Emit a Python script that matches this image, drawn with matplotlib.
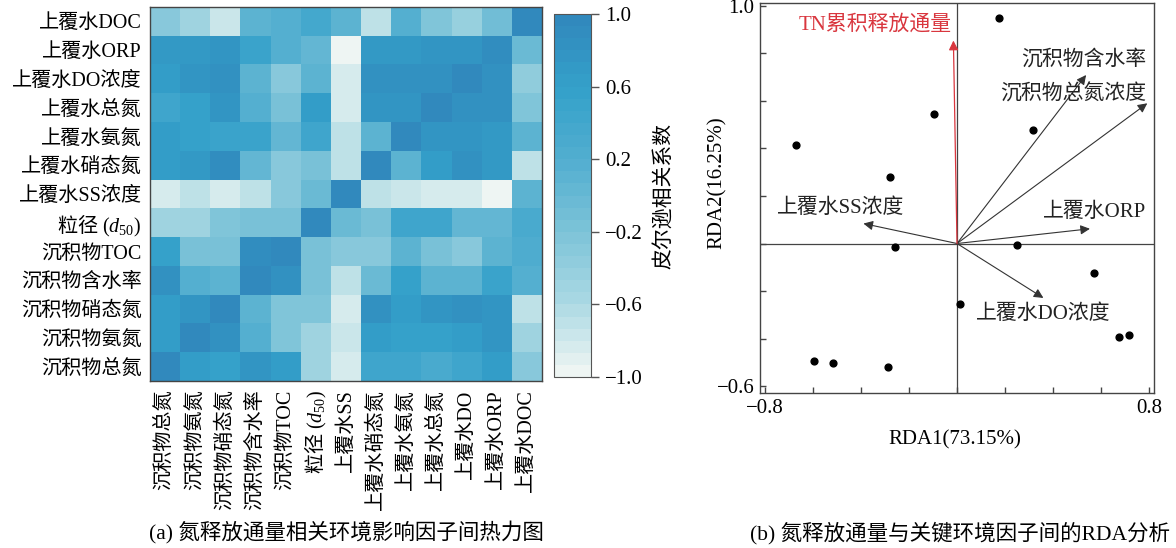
import numpy as np
import matplotlib
matplotlib.use("Agg")
import matplotlib.pyplot as plt
from matplotlib.colors import LinearSegmentedColormap

plt.rcParams["font.family"] = ["Liberation Serif", "Noto Sans CJK SC"]
# 公式里的中文用 sf 字体，其余用衬线字体
plt.rcParams["mathtext.fontset"] = "custom"
plt.rcParams["mathtext.rm"] = "Liberation Serif"
plt.rcParams["mathtext.it"] = "Liberation Serif:italic"
plt.rcParams["mathtext.sf"] = "Noto Sans CJK SC"
plt.rcParams["axes.unicode_minus"] = True

D50 = r"$\mathsf{粒径}\ (d_{50})$"

# ---- 热力图数据 ----
heat_rows = ["上覆水DOC", "上覆水ORP", "上覆水DO浓度", "上覆水总氮", "上覆水氨氮",
             "上覆水硝态氮", "上覆水SS浓度", D50, "沉积物TOC",
             "沉积物含水率", "沉积物硝态氮", "沉积物氨氮", "沉积物总氮"]
heat_cols = ["沉积物总氮", "沉积物氨氮", "沉积物硝态氮", "沉积物含水率", "沉积物TOC",
             D50, "上覆水SS", "上覆水硝态氮", "上覆水氨氮", "上覆水总氮",
             "上覆水DO", "上覆水ORP", "上覆水DOC"]
corr = np.array([
    [-0.30, -0.50, -0.75,  0.10,  0.15,  0.35,  0.10, -0.70,  0.15, -0.25, -0.45, -0.10,  1.00],
    [ 0.70,  0.70,  0.75,  0.50,  0.15,  0.00, -1.00,  0.70,  0.70,  0.75,  0.75,  0.90, -0.05],
    [ 0.60,  0.75,  0.85,  0.10, -0.30,  0.10, -0.80,  0.80,  0.80,  0.80,  1.00,  0.85, -0.35],
    [ 0.40,  0.55,  0.75,  0.15, -0.20,  0.60, -0.80,  0.75,  0.75,  1.00,  0.85,  0.80, -0.25],
    [ 0.60,  0.55,  0.50,  0.50,  0.05,  0.45, -0.70,  0.10,  1.00,  0.75,  0.75,  0.70,  0.10],
    [ 0.60,  0.70,  0.90,  0.00, -0.30, -0.20, -0.70,  1.00,  0.10,  0.65,  0.80,  0.70, -0.70],
    [-0.85, -0.70, -0.80, -0.70, -0.30, -0.05,  1.00, -0.70, -0.75, -0.82, -0.85, -1.00,  0.10],
    [-0.50, -0.50, -0.25, -0.20, -0.20,  1.00, -0.05, -0.20,  0.45,  0.45,  0.05,  0.05,  0.30],
    [ 0.55, -0.20, -0.20,  0.90,  1.00, -0.20, -0.30, -0.30,  0.10, -0.20, -0.30,  0.10,  0.25],
    [ 0.80,  0.15,  0.10,  1.00,  0.85, -0.20, -0.70, -0.05,  0.55,  0.10,  0.10,  0.50,  0.15],
    [ 0.65,  0.75,  1.00,  0.10, -0.25, -0.25, -0.85,  0.85,  0.60,  0.75,  0.80,  0.75, -0.70],
    [ 0.65,  1.00,  0.80,  0.15, -0.25, -0.50, -0.75,  0.65,  0.55,  0.55,  0.65,  0.75, -0.50],
    [ 1.00,  0.60,  0.55,  0.75,  0.60, -0.50, -0.85,  0.45,  0.45,  0.30,  0.45,  0.65, -0.30],
])
cbar_ticks = [-1.0, -0.6, -0.2, 0.2, 0.6, 1.0]

# ---- RDA 数据 ----
sample_x = [0.176, -0.095, -0.672, -0.280, 0.318, -0.258, 0.251,
            0.570, 0.011, 0.676, 0.715, -0.597, -0.518, -0.286]
sample_y = [0.950, 0.543, 0.415, 0.280, 0.477, -0.016, -0.007,
            -0.125, -0.256, -0.394, -0.384, -0.494, -0.504, -0.519]
env_names = ["沉积物含水率", "沉积物总氮浓度", "上覆水ORP", "上覆水SS浓度", "上覆水DO浓度"]
env_x = [0.538, 0.793, 0.554, -0.390, 0.360]
env_y = [0.709, 0.590, 0.062, 0.084, -0.229]
resp_name = "TN累积释放通量"
resp_x, resp_y = -0.015, 0.854

W, H = 1176, 548
fig = plt.figure(figsize=(W / 100, H / 100), dpi=100)


def box(x0, y0, x1, y1):
    return [x0 / W, 1 - y1 / H, (x1 - x0) / W, (y1 - y0) / H]


# ---------------- (a) 热力图 ----------------
cmap = LinearSegmentedColormap.from_list(
    "blues_pearson",
    [(0.0, "#eef5f3"), (0.2, "#a9d8e3"), (0.4, "#7cc3d8"),
     (0.6, "#52aed0"), (0.8, "#34a1ca"), (1.0, "#3189bd")], N=30)

ax1 = fig.add_axes(box(150, 7, 542, 381))
im = ax1.imshow(corr, cmap=cmap, vmin=-1, vmax=1, aspect="auto", interpolation="nearest")
ax1.set_xticks(range(len(heat_cols)))
ax1.set_xticklabels(heat_cols, rotation=90, va="top", ha="center", fontsize=14.5)
ax1.set_yticks(range(len(heat_rows)))
ax1.set_yticklabels(heat_rows, fontsize=14.5)
ax1.tick_params(length=0, pad=6)
for s in ax1.spines.values():
    s.set_color("#444444")
    s.set_linewidth(1.0)

cax = fig.add_axes(box(554, 14, 591, 377))
cb = fig.colorbar(im, cax=cax, ticks=cbar_ticks)
cb.ax.set_yticklabels([f"{t:.1f}".replace("-", "\u2212") for t in cbar_ticks], fontsize=15)
cb.ax.tick_params(length=6, width=1, color="#555555", pad=4)
cb.outline.set_edgecolor("#555555")
cb.set_label("皮尔逊相关系数", fontsize=15, labelpad=8)

fig.text(346 / W, 1 - 533 / H, "(a) 氮释放通量相关环境影响因子间热力图",
         ha="center", va="center", fontsize=15.5)

# ---------------- (b) RDA 排序图 ----------------
ax2 = fig.add_axes(box(760, 3, 1154, 393))
ax2.set_xlim(-0.821, 0.821)
ax2.set_ylim(-0.629, 1.012)
ax2.axhline(0, color="#444444", lw=0.9, zorder=1)
ax2.axvline(0, color="#444444", lw=0.9, zorder=1)

ax2.scatter(sample_x, sample_y, s=24, color="black", zorder=3)

for name, ex, ey in zip(env_names, env_x, env_y):
    ax2.annotate("", xy=(ex, ey), xytext=(0, 0),
                 arrowprops=dict(arrowstyle="-|>", color="#333333", lw=0.8,
                                 mutation_scale=14, shrinkA=0, shrinkB=0), zorder=2)
ax2.annotate("", xy=(resp_x, resp_y), xytext=(0, 0),
             arrowprops=dict(arrowstyle="-|>", color="#d9363e", lw=0.9,
                             mutation_scale=14, shrinkA=0, shrinkB=0), zorder=2)

label_pos = {
    "沉积物含水率": (0.79, 0.775, "right"),
    "沉积物总氮浓度": (0.79, 0.625, "right"),
    "上覆水ORP": (0.79, 0.130, "right"),
    "上覆水SS浓度": (-0.75, 0.147, "left"),
    "上覆水DO浓度": (0.079, -0.298, "left"),
}
for name in env_names:
    lx, ly, ha = label_pos[name]
    ax2.text(lx, ly, name, ha=ha, va="center", fontsize=15, color="#222222")
ax2.text(-0.02, 0.922, resp_name, ha="right", va="center", fontsize=15, color="#d9363e")

xt = np.round(np.arange(-0.8, 0.81, 0.2), 1)
yt = np.round(np.arange(-0.6, 1.01, 0.2), 1)
ax2.set_xticks(xt)
ax2.set_xticklabels(["\u22120.8" if v == -0.8 else ("0.8" if v == 0.8 else "") for v in xt],
                    fontsize=15)
ax2.set_yticks(yt)
ax2.set_yticklabels(["\u22120.6" if v == -0.6 else ("1.0" if v == 1.0 else "") for v in yt],
                    fontsize=15)
ax2.tick_params(direction="in", length=4, width=1, color="#444444", pad=4)
for s in ax2.spines.values():
    s.set_color("#444444")
    s.set_linewidth(1.0)

ax2.set_xlabel("RDA1(73.15%)", fontsize=15)
ax2.xaxis.set_label_coords(0.495, -0.095)
ax2.set_ylabel("RDA2(16.25%)", fontsize=15)
ax2.yaxis.set_label_coords(-0.084, 0.538)

fig.text(960 / W, 1 - 533 / H, "(b) 氮释放通量与关键环境因子间的RDA分析",
         ha="center", va="center", fontsize=15.5)

fig.savefig("out.png", dpi=100)
